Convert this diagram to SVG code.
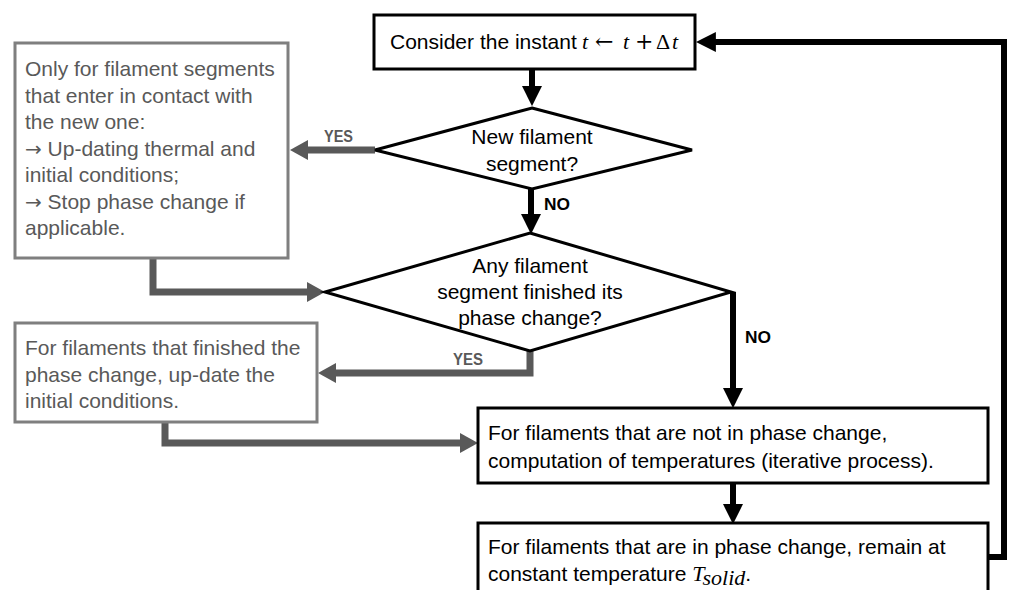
<svg xmlns="http://www.w3.org/2000/svg" width="1009" height="590" viewBox="0 0 1009 590">
<style>
.bk{fill:#fff;stroke:#000;stroke-width:3}
.gy{fill:#fff;stroke:#7f7f7f;stroke-width:3}
.t{font-family:"Liberation Sans",Arial,sans-serif;font-size:21px;fill:#000}
.tg{font-family:"Liberation Sans",Arial,sans-serif;font-size:21px;fill:#595959}
.ar{font-family:"DejaVu Sans",sans-serif;font-size:20px}
.m{font-family:"Liberation Serif","Times New Roman",serif;font-size:22px;fill:#000}
.ms{font-family:"DejaVu Serif",serif;font-size:22px}
.mi{font-style:italic}
.lb{font-family:"Liberation Sans",Arial,sans-serif;font-size:17px;font-weight:bold;fill:#000}
.lg{font-family:"Liberation Sans",Arial,sans-serif;font-size:17px;font-weight:bold;fill:#595959}
.cb{fill:none;stroke:#000;stroke-width:6}
.cg{fill:none;stroke:#595959;stroke-width:7}
</style>
<defs>
<marker id="ab" markerUnits="userSpaceOnUse" markerWidth="20" markerHeight="20" refX="8" refY="9" orient="auto" viewBox="0 0 18 18">
<path d="M0,0 L18,9 L0,18 z" fill="#000"/>
</marker>
<marker id="ag" markerUnits="userSpaceOnUse" markerWidth="20" markerHeight="20" refX="8" refY="10" orient="auto" viewBox="0 0 18 20">
<path d="M0,0 L18,10 L0,20 z" fill="#595959"/>
</marker>
</defs>
<g id="connectors">
<path class="cb" d="M532,69 V95" marker-end="url(#ab)"/>
<path class="cg" d="M375,150 H300" marker-end="url(#ag)"/>
<path class="cb" d="M531,189 V223" marker-end="url(#ab)"/>
<path class="cg" d="M153,258 V292 H315" marker-end="url(#ag)"/>
<path class="cg" d="M530,351 V373 H328" marker-end="url(#ag)"/>
<path class="cb" d="M733,292 V397" marker-end="url(#ab)"/>
<path class="cg" d="M165,422 V443 H468" marker-end="url(#ag)"/>
<path class="cb" d="M733,483 V513" marker-end="url(#ab)"/>
<path class="cb" d="M988,557 H1004 V42 H707" marker-end="url(#ab)"/>
<text class="lg" x="324" y="142" textLength="29" lengthAdjust="spacingAndGlyphs">YES</text>
<text class="lb" x="544" y="210" textLength="26" lengthAdjust="spacingAndGlyphs">NO</text>
<text class="lg" x="453" y="365" textLength="30" lengthAdjust="spacingAndGlyphs">YES</text>
<text class="lb" x="745" y="343" textLength="26" lengthAdjust="spacingAndGlyphs">NO</text>
</g>
<g id="start">
<rect class="bk" x="374" y="15" width="321" height="54"/>
<text class="t" x="390" y="49">Consider the instant</text>
<text class="m" y="49"><tspan class="mi" x="582">t</tspan><tspan class="ms" x="595">←</tspan><tspan class="mi" x="623">t</tspan><tspan class="ms" x="635">+</tspan><tspan x="656">Δ</tspan><tspan class="mi" x="672">t</tspan></text>
</g>
<g id="decision1">
<polygon class="bk" points="532,108 692,150 532,189 375,150"/>
<text class="t" x="532" y="144" text-anchor="middle">New filament</text>
<text class="t" x="532" y="171" text-anchor="middle">segment?</text>
</g>
<g id="contact-box">
<rect class="gy" x="15" y="43" width="273" height="215"/>
<text class="tg" x="25" y="76">Only for filament segments</text>
<text class="tg" x="25" y="102.5">that enter in contact with</text>
<text class="tg" x="25" y="129">the new one:</text>
<text class="tg" x="25" y="155.5"><tspan class="ar">→</tspan> Up-dating thermal and</text>
<text class="tg" x="25" y="182">initial conditions;</text>
<text class="tg" x="25" y="208.5"><tspan class="ar">→</tspan> Stop phase change if</text>
<text class="tg" x="25" y="235">applicable.</text>
</g>
<g id="decision2">
<polygon class="bk" points="530,233 731,292 530,351 325,292"/>
<text class="t" x="530" y="273" text-anchor="middle">Any filament</text>
<text class="t" x="530" y="299" text-anchor="middle">segment finished its</text>
<text class="t" x="530" y="325" text-anchor="middle">phase change?</text>
</g>
<g id="finished-box">
<rect class="gy" x="15" y="323" width="302" height="99"/>
<text class="tg" x="25" y="355">For filaments that finished the</text>
<text class="tg" x="25" y="381.5">phase change, up-date the</text>
<text class="tg" x="25" y="408">initial conditions.</text>
</g>
<g id="compute-box">
<rect class="bk" x="478" y="408" width="510" height="75"/>
<text class="t" x="488" y="440">For filaments that are not in phase change,</text>
<text class="t" x="488" y="468">computation of temperatures (iterative process).</text>
</g>
<g id="constant-box">
<rect class="bk" x="478" y="523" width="510" height="90"/>
<text class="t" x="488" y="554">For filaments that are in phase change, remain at</text>
<text class="t" x="488" y="581">constant temperature <tspan class="m mi">T</tspan><tspan class="m mi" font-size="16" dy="4">solid</tspan><tspan dy="-4">.</tspan></text>
</g>
</svg>
